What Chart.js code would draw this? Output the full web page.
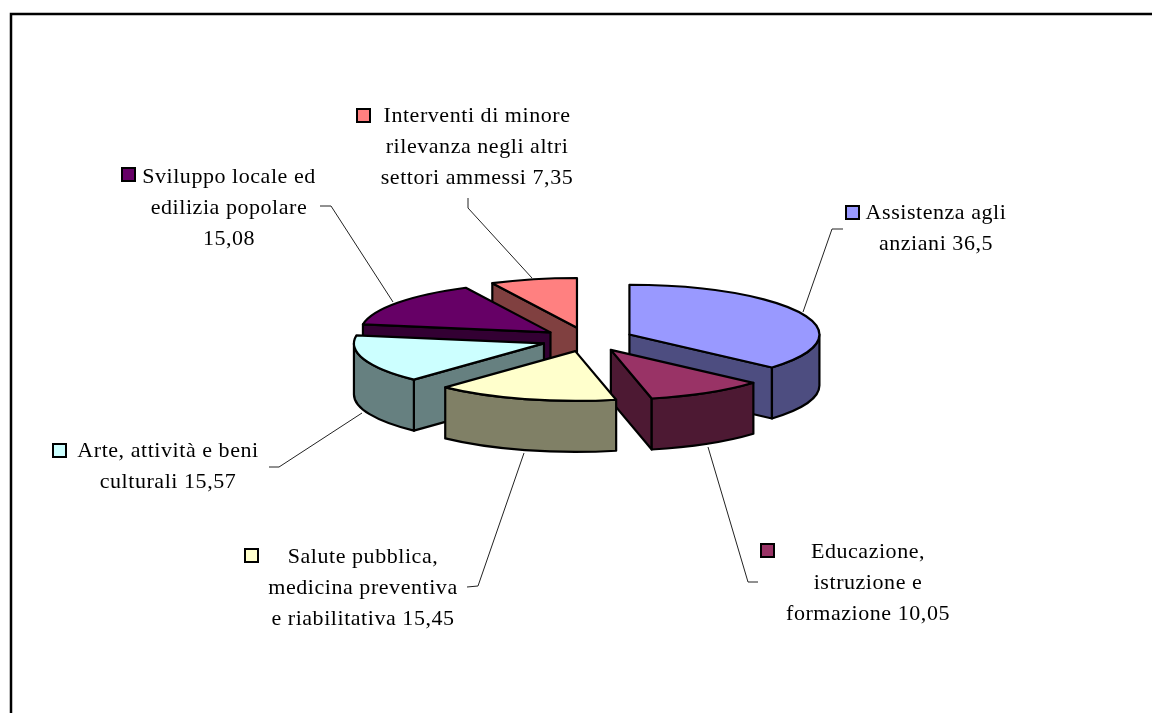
<!DOCTYPE html>
<html lang="it">
<head>
<meta charset="utf-8">
<title>Settori di intervento</title>
<script src="https://cdn.jsdelivr.net/npm/chart.js@4"></script>
<style>
  html, body { margin: 0; padding: 0; background: #fff; overflow: hidden; }
  #wrap { width: 1152px; height: 713px; }
</style>
</head>
<body>
<div id="wrap"><canvas id="chart" width="1152" height="713"></canvas></div>
<script>
// Data
const categories = [
  "Assistenza agli anziani",
  "Educazione, istruzione e formazione",
  "Salute pubblica, medicina preventiva e riabilitativa",
  "Arte, attività e beni culturali",
  "Sviluppo locale ed edilizia popolare",
  "Interventi di minore rilevanza negli altri settori ammessi",
];
const values = [36.5, 10.05, 15.45, 15.57, 15.08, 7.35];
const labelLines = [
  ["Assistenza agli", "anziani 36,5"],
  ["Educazione,", "istruzione e", "formazione 10,05"],
  ["Salute pubblica,", "medicina preventiva", "e riabilitativa 15,45"],
  ["Arte, attività e beni", "culturali 15,57"],
  ["Sviluppo locale ed", "edilizia popolare", "15,08"],
  ["Interventi di minore", "rilevanza negli altri", "settori ammessi 7,35"],
];
const topColors = ["#9999ff", "#993366", "#ffffcc", "#ccffff", "#660066", "#ff8080"];
const sideColors = ["#4d4d80", "#4d1933", "#808066", "#668080", "#330033", "#804040"];

// Layout of the fake 3D pie and its labels
const SQUASH = 0.262;
const DEPTH = 51;
const drawOrder = [5, 4, 3, 0, 1, 2];
const labelCenters = [936, 868, 363, 168, 229, 477];
const labelBaselines = [219, 558, 563, 457, 183, 122];
const keyBoxes = [[846, 206], [761, 544], [245, 549], [53, 444], [122, 168], [357, 109]];
const leaders = [
  [[843, 229], [832, 229], [803, 312]],
  [[758, 582], [748, 582], [708, 447]],
  [[467, 587], [478, 586], [524, 453]],
  [[269, 467], [279, 467], [362, 413]],
  [[320, 206], [331, 206], [393, 302]],
  [[468, 198], [468, 208], [532, 278]],
];

function polygon(ctx, pts, fill) {
  ctx.beginPath();
  pts.forEach((p, i) => i ? ctx.lineTo(p[0], p[1]) : ctx.moveTo(p[0], p[1]));
  ctx.closePath();
  ctx.fillStyle = fill;
  ctx.fill();
  ctx.stroke();
}

function drawSlice(ctx, arc, i) {
  const { x, y, startAngle, endAngle, outerRadius: r } = arc.getProps(["x", "y", "startAngle", "endAngle", "outerRadius"], true);
  const mid = (startAngle + endAngle) / 2;
  const ax = x + Math.cos(mid) * arc.options.offset;
  const ay = y + Math.sin(mid) * arc.options.offset * SQUASH;
  const rim = a => [ax + Math.cos(a) * r, ay + Math.sin(a) * r * SQUASH];
  const s = rim(startAngle);
  const e = rim(endAngle);

  ctx.strokeStyle = "#000";
  ctx.lineWidth = 2.2;
  ctx.lineJoin = "round";

  // side faces that look towards the viewer only
  if (s[0] < ax - 0.5) {
    polygon(ctx, [[ax, ay], s, [s[0], s[1] + DEPTH], [ax, ay + DEPTH]], sideColors[i]);
  }
  if (ax < e[0] - 0.5) {
    polygon(ctx, [e, [ax, ay], [ax, ay + DEPTH], [e[0], e[1] + DEPTH]], sideColors[i]);
  }

  // outer wall, front half of the ellipse
  const twoPi = Math.PI * 2;
  for (const k of [-1, 0, 1]) {
    const from = Math.max(startAngle, k * twoPi);
    const to = Math.min(endAngle, k * twoPi + Math.PI);
    if (to <= from) continue;
    ctx.beginPath();
    ctx.ellipse(ax, ay, r, r * SQUASH, 0, from, to);
    ctx.ellipse(ax, ay + DEPTH, r, r * SQUASH, 0, to, from, true);
    ctx.closePath();
    ctx.fillStyle = sideColors[i];
    ctx.fill();
    ctx.stroke();
  }

  // top face
  ctx.beginPath();
  ctx.moveTo(ax, ay);
  ctx.ellipse(ax, ay, r, r * SQUASH, 0, startAngle, endAngle);
  ctx.closePath();
  ctx.fillStyle = topColors[i];
  ctx.fill();
  ctx.stroke();
}

const pie3d = {
  id: "pie3d",
  beforeDraw(chart) {
    const ctx = chart.ctx;
    ctx.save();
    ctx.strokeStyle = "#000";
    ctx.lineWidth = 2.5;
    ctx.strokeRect(11, 14, 1300, 900);
    ctx.restore();
  },
  beforeDatasetDraw(chart, args) {
    const ctx = chart.ctx;
    ctx.save();
    drawOrder.forEach(i => drawSlice(ctx, args.meta.data[i], i));
    ctx.restore();
    return false;
  },
  afterDatasetsDraw(chart) {
    const ctx = chart.ctx;
    ctx.save();
    // leader lines
    ctx.strokeStyle = "#222";
    ctx.lineWidth = 1;
    leaders.forEach(line => {
      ctx.beginPath();
      line.forEach((p, i) => i ? ctx.lineTo(p[0], p[1]) : ctx.moveTo(p[0], p[1]));
      ctx.stroke();
    });
    // labels and keys
    ctx.font = '22px "Liberation Serif"';
    ctx.letterSpacing = "0.55px";
    ctx.textAlign = "center";
    ctx.textBaseline = "alphabetic";
    labelLines.forEach((lines, i) => {
      ctx.fillStyle = "#000";
      lines.forEach((t, n) => ctx.fillText(t, labelCenters[i], labelBaselines[i] + n * 31));
      ctx.fillStyle = topColors[i];
      ctx.strokeStyle = "#000";
      ctx.lineWidth = 2;
      ctx.fillRect(keyBoxes[i][0], keyBoxes[i][1], 13, 13);
      ctx.strokeRect(keyBoxes[i][0], keyBoxes[i][1], 13, 13);
    });
    ctx.restore();
  },
};

new Chart(document.getElementById("chart"), {
  type: "pie",
  data: {
    labels: categories,
    datasets: [{ data: values, backgroundColor: topColors, offset: 46, radius: 190 }],
  },
  options: {
    responsive: false,
    animation: false,
    layout: { padding: { left: 23, bottom: 34 } },
    plugins: { legend: { display: false }, tooltip: { enabled: false } },
  },
  plugins: [pie3d],
});
</script>
</body>
</html>
